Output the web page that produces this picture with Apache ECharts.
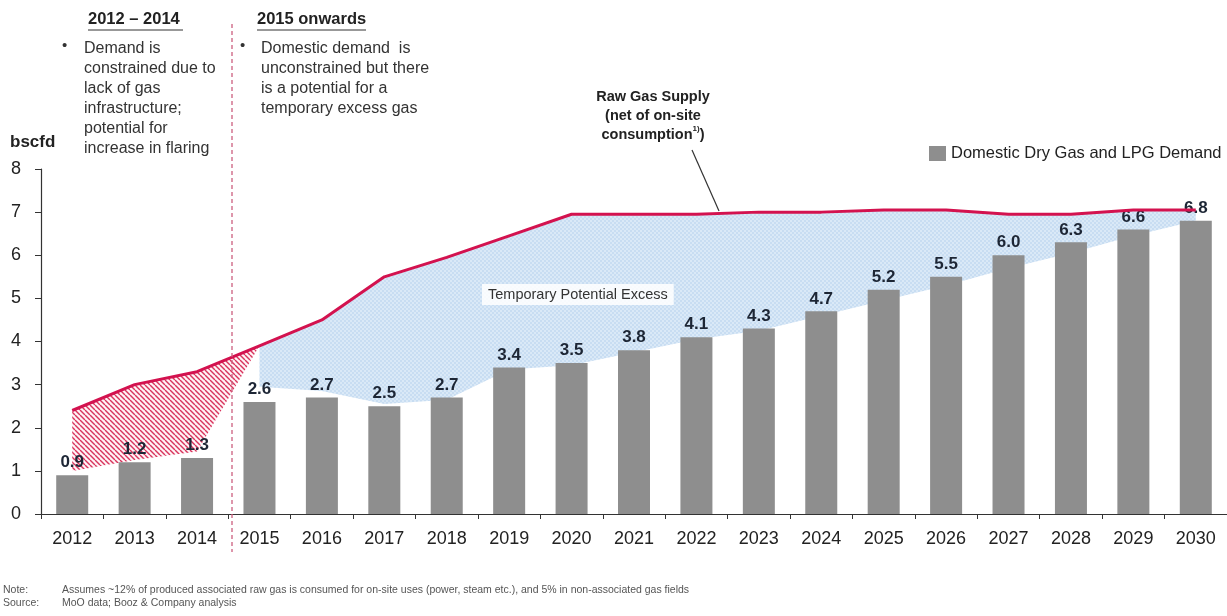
<!DOCTYPE html>
<html>
<head>
<meta charset="utf-8">
<script src="https://cdn.jsdelivr.net/npm/echarts@6/dist/echarts.min.js"></script>
<style>
  html, body { margin: 0; padding: 0; background: #fff; }
  #chart { width: 1227px; height: 616px; }
</style>
</head>
<body>
<div id="chart"></div>
<script>
// data
const years = ['2012', '2013', '2014', '2015', '2016', '2017', '2018', '2019', '2020', '2021',
  '2022', '2023', '2024', '2025', '2026', '2027', '2028', '2029', '2030']
const demand = [0.9, 1.2, 1.3, 2.6, 2.7, 2.5, 2.7, 3.4, 3.5, 3.8, 4.1, 4.3, 4.7, 5.2, 5.5, 6.0, 6.3, 6.6, 6.8]
const rawSupply = [2.4, 3.0, 3.3, 3.9, 4.5, 5.5, 5.95, 6.45, 6.95, 6.95, 6.95, 7.0, 7.0, 7.05, 7.05, 6.95, 6.95, 7.05, 7.05]
// lower edge of the hatched (flaring) band, 2012-2015
const flaringLower = [1.0, 1.25, 1.45, 3.9, null, null, null, null, null, null, null, null, null, null, null, null, null, null, null]
// lower edge of the blue "temporary potential excess" band
const excessLower = [null, null, null, 2.95, 2.85, 2.55, 2.65, 3.35, 3.45, 3.75, 4.05, 4.25, 4.6, 4.95, 5.3, 5.7, 6.05, 6.45, 6.8]
const yTicks = [0, 1, 2, 3, 4, 5, 6, 7, 8]

const FONT = 'Arial, "Liberation Sans", sans-serif'

// band heights above the lower edges (for stacking)
const flaringBand = flaringLower.map((v, i) => v == null ? null : +(rawSupply[i] - v).toFixed(2))
const excessBand = excessLower.map((v, i) => v == null ? null : +(rawSupply[i] - v).toFixed(2))

// red diagonal hatch
const makeHatch = () => {
  const s = 5
  const c = document.createElement('canvas')
  c.width = s; c.height = s
  const g = c.getContext('2d')
  g.fillStyle = 'rgba(255,235,240,0.6)'
  g.fillRect(0, 0, s, s)
  g.strokeStyle = '#d8345c'
  g.lineWidth = 1.4
  for (const o of [-s, 0, s]) {
    g.beginPath(); g.moveTo(o, 0); g.lineTo(o + s, s); g.stroke()
  }
  return c
}

// fine light blue texture
const makeDots = () => {
  const c = document.createElement('canvas')
  c.width = 4; c.height = 4
  const g = c.getContext('2d')
  g.fillStyle = '#dae9f7'
  g.fillRect(0, 0, 4, 4)
  g.fillStyle = '#c8ddf2'
  g.fillRect(0, 0, 2, 2)
  g.fillRect(2, 2, 2, 2)
  return c
}

const chartInstance = echarts.init(document.getElementById('chart'))

const txt = (x, y, text, extra) => ({
  type: 'text', left: x, top: y,
  style: Object.assign({ text: text, font: '16px ' + FONT, fill: '#333' }, extra || {})
})

const option = {
  animation: false,
  textStyle: { fontFamily: FONT },
  grid: { left: 41, top: 169, width: 1193, height: 345, containLabel: false },
  legend: {
    data: ['Domestic Dry Gas and LPG Demand'],
    left: 924, top: 140,
    icon: 'rect', itemWidth: 17, itemHeight: 15, itemGap: 8,
    textStyle: { fontSize: 16.5, color: '#222', fontFamily: FONT }
  },
  xAxis: {
    type: 'category',
    data: years,
    axisLine: { lineStyle: { color: '#333', width: 1.2 } },
    axisTick: { show: true, length: 5, lineStyle: { color: '#333' } },
    axisLabel: { fontSize: 18, color: '#222', margin: 16 }
  },
  yAxis: {
    type: 'value',
    min: 0, max: 8, interval: 1,
    splitLine: { show: false },
    axisLine: { show: true, lineStyle: { color: '#333', width: 1.2 } },
    axisTick: { show: true, length: 6, lineStyle: { color: '#333' } },
    axisLabel: { fontSize: 18, color: '#222', margin: 20, formatter: v => yTicks.includes(v) ? String(v) : '' }
  },
  series: [
    {
      name: 'flaringBase', type: 'line', stack: 'flaring', data: flaringLower,
      symbol: 'none', silent: true, lineStyle: { opacity: 0 }, z: 1
    },
    {
      name: 'flaringBand', type: 'line', stack: 'flaring', data: flaringBand,
      symbol: 'none', silent: true, lineStyle: { opacity: 0 },
      areaStyle: { color: { image: makeHatch(), repeat: 'repeat' }, opacity: 1 }, z: 1
    },
    {
      name: 'excessBase', type: 'line', stack: 'excess', data: excessLower,
      symbol: 'none', silent: true, lineStyle: { opacity: 0 }, z: 1
    },
    {
      name: 'excessBand', type: 'line', stack: 'excess', data: excessBand,
      symbol: 'none', silent: true, lineStyle: { opacity: 0 },
      areaStyle: { color: { image: makeDots(), repeat: 'repeat' }, opacity: 1 }, z: 1
    },
    {
      name: 'Domestic Dry Gas and LPG Demand', type: 'bar', data: demand,
      barWidth: 32, z: 2,
      itemStyle: { color: '#8e8e8e' },
      label: {
        show: true, position: 'top', distance: 4,
        formatter: p => p.value.toFixed(1),
        fontSize: 17, fontWeight: 'bold', color: '#1d2635'
      }
    },
    {
      name: 'Raw Gas Supply', type: 'line', data: rawSupply,
      symbol: 'none', z: 4,
      lineStyle: { color: '#d3124f', width: 3 }
    }
  ],
  graphic: [
    // period split
    { type: 'line', shape: { x1: 232, y1: 24, x2: 232, y2: 552 },
      style: { stroke: '#cc5f7f', lineWidth: 1.3, lineDash: [4, 3] }, z: 10 },
    // headers
    txt(88, 11, '2012 – 2014', { font: 'bold 16.5px ' + FONT, fill: '#222' }),
    { type: 'line', shape: { x1: 88, y1: 30, x2: 183, y2: 30 }, style: { stroke: '#333', lineWidth: 1 } },
    txt(257, 11, '2015 onwards', { font: 'bold 16.5px ' + FONT, fill: '#222' }),
    { type: 'line', shape: { x1: 257, y1: 30, x2: 366, y2: 30 }, style: { stroke: '#333', lineWidth: 1 } },
    // bullets
    txt(62, 38, '•', { font: '15px ' + FONT }),
    txt(84, 39, 'Demand is\nconstrained due to\nlack of gas\ninfrastructure;\npotential for\nincrease in flaring',
      { lineHeight: 20 }),
    txt(240, 38, '•', { font: '15px ' + FONT }),
    txt(261, 39, 'Domestic demand  is\nunconstrained but there\nis a potential for a\ntemporary excess gas',
      { lineHeight: 20 }),
    // unit
    txt(10, 134, 'bscfd', { font: 'bold 17px ' + FONT, fill: '#222' }),
    // supply callout
    {
      type: 'text', x: 653, y: 87,
      style: {
        text: 'Raw Gas Supply\n(net of on-site\nconsumption{s|1)})',
        font: 'bold 14.5px ' + FONT, fill: '#222', lineHeight: 19, align: 'center',
        rich: { s: { fontSize: 8, fontWeight: 'bold', verticalAlign: 'top', padding: [0, 0, 6, 0] } }
      }
    },
    { type: 'line', shape: { x1: 692, y1: 150, x2: 719, y2: 211 }, style: { stroke: '#333', lineWidth: 1.2 }, z: 10 },
    // excess label
    {
      type: 'text', left: 482, top: 284,
      style: {
        text: 'Temporary Potential Excess', font: '14.5px ' + FONT, fill: '#333',
        backgroundColor: 'rgba(255,255,255,0.85)', padding: [3, 6, 3, 6]
      }, z: 10
    },
    // footnotes
    txt(3, 585, 'Note:', { font: '10.5px ' + FONT, fill: '#555' }),
    txt(62, 585, 'Assumes ~12% of produced associated raw gas is consumed for on-site uses (power, steam etc.), and 5% in non-associated gas fields',
      { font: '10.5px ' + FONT, fill: '#555' }),
    txt(3, 598, 'Source:', { font: '10.5px ' + FONT, fill: '#555' }),
    txt(62, 598, 'MoO data; Booz & Company analysis', { font: '10.5px ' + FONT, fill: '#555' })
  ]
}

chartInstance.setOption(option)
window.addEventListener('resize', () => chartInstance.resize())
</script>
</body>
</html>
